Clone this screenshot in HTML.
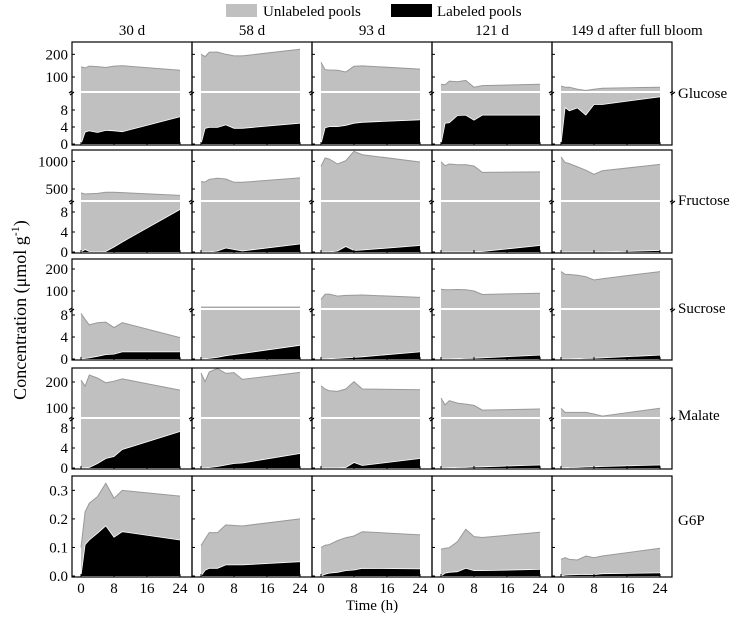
<!DOCTYPE html>
<html><head><meta charset="utf-8"><style>
html,body{margin:0;padding:0;background:#fff;}
svg{display:block;font-family:"Liberation Serif",serif;}
</style></head><body>
<svg id="chart" width="743" height="624" viewBox="0 0 743 624" xmlns="http://www.w3.org/2000/svg">
<g>
<rect x="226" y="4" width="31" height="13" fill="#c0c0c0"/>
<text x="263" y="16" font-size="15">Unlabeled pools</text>
<rect x="391" y="4" width="41" height="13" fill="#000"/>
<text x="437" y="16" font-size="15">Labeled pools</text>
</g>
<text transform="translate(26,310) rotate(-90)" text-anchor="middle" font-size="18">Concentration (μmol g<tspan dy="-7" font-size="12">-1</tspan><tspan dy="7">)</tspan></text>
<text x="372" y="610" text-anchor="middle" font-size="15">Time (h)</text>
<g id="panels"></g>
</svg>
<script>
const times = [0, 1, 2, 4, 6, 8, 10, 24];
const stages = ["30 d", "58 d", "93 d", "121 d", "149 d after full bloom"];
const metabolites = ["Glucose", "Fructose", "Sucrose", "Malate", "G6P"];
const xTicks = [0, 8, 16, 24];

const glucoseTotal = [
 [145,140,148,146,142,148,150,130],
 [200,190,210,210,200,193,193,222],
 [165,132,131,130,122,147,149,135],
 [68,66,82,79,85,55,62,68],
 [60,55,55,46,35,46,50,55]];
const glucoseLabeled = [
 [0,2.8,3.1,2.7,3.2,3.1,2.9,6.4],
 [0,3.7,3.9,3.9,4.5,3.7,3.7,4.9],
 [0,3.8,4.1,4.1,4.4,4.9,5.1,5.7],
 [0,4.9,5.0,6.7,6.8,5.6,6.8,6.8],
 [0,8.6,7.8,8.5,6.8,9.3,9.3,11.1]];
const fructoseTotal = [
 [430,410,415,420,440,440,435,385],
 [632,626,675,696,680,622,622,700],
 [910,1060,1040,952,1012,1182,1120,988],
 [994,922,952,940,940,916,801,810],
 [1080,980,960,900,840,765,830,945]];
const fructoseLabeled = [
 [0,0.5,0.1,0.1,0.1,1.0,2.0,8.5],
 [0,0,0,0.2,0.8,0.5,0.2,1.6],
 [0,0,0,0.2,1.1,0.3,0.4,1.3],
 [0,0,0,0,0,0,0.1,1.3],
 [0,0,0,0,0,0,0,0.3]];
const sucroseTotal = [
 [8.3,7.2,6.2,6.6,6.7,5.7,6.6,3.9],
 [27,27,27,27,27,27,27,27],
 [62,85,86,77,80,81,82,71],
 [108,106,106,107,106,100,84,90],
 [188,176,175,172,165,150,156,188]];
const sucroseLabeled = [
 [0,0.1,0.2,0.5,0.8,0.9,1.3,1.3],
 [0,0.05,0.1,0.3,0.6,0.8,1.0,2.5],
 [0,0,0.05,0.1,0.2,0.3,0.4,1.3],
 [0,0,0,0.05,0.1,0.15,0.2,0.7],
 [0,0,0,0.05,0.1,0.15,0.2,0.7]];
const malateTotal = [
 [207,184,227,215,197,203,212,169],
 [235,201,239,252,233,236,210,237],
 [185,173,166,164,173,201,173,170],
 [138,112,128,119,115,110,92,96],
 [99,83,83,83,83,77,69,99]];
const malateLabeled = [
 [0,0.05,0.1,0.9,1.9,2.3,3.7,7.3],
 [0,0,0.1,0.3,0.6,0.9,1.0,2.9],
 [0,0,0,0,0.1,1.1,0.5,1.9],
 [0,0,0.05,0.1,0.15,0.2,0.25,0.6],
 [0,0.05,0.1,0.15,0.2,0.25,0.3,0.6]];
const g6pTotal = [
 [0.10,0.225,0.255,0.278,0.325,0.272,0.30,0.28],
 [0.106,0.13,0.152,0.152,0.179,0.177,0.175,0.20],
 [0.10,0.108,0.11,0.124,0.134,0.14,0.155,0.144],
 [0.094,0.097,0.099,0.12,0.164,0.138,0.135,0.153],
 [0.058,0.064,0.058,0.056,0.07,0.064,0.07,0.097]];
const g6pLabeled = [
 [0,0.11,0.126,0.15,0.176,0.136,0.155,0.126],
 [0,0.02,0.027,0.027,0.039,0.039,0.039,0.05],
 [0,0.006,0.01,0.013,0.019,0.021,0.027,0.025],
 [0,0.01,0.013,0.015,0.027,0.019,0.019,0.023],
 [0,0.003,0.004,0.005,0.006,0.005,0.008,0.011]];

const lowerTicks = [0, 4, 8];
const glucoseUpperTicks = [100, 200];
const fructoseUpperTicks = [500, 1000];
const sucroseUpperTicks = [100, 200];
const malateUpperTicks = [100, 200];
const g6pTicks = [0, 0.1, 0.2, 0.3];
const g6pTickLabels = ["0.0", "0.1", "0.2", "0.3"];

const totals = [glucoseTotal, fructoseTotal, sucroseTotal, malateTotal, g6pTotal];
const labeled = [glucoseLabeled, fructoseLabeled, sucroseLabeled, malateLabeled, g6pLabeled];
const upperTicks = [glucoseUpperTicks, fructoseUpperTicks, sucroseUpperTicks, malateUpperTicks, null];

const rowGeom = [
 {top:42, bottom:145, y0:144, lowK:4.25, brk:92, ref:100, yRef:77, k:0.2267},
 {top:150, bottom:253, y0:252, lowK:5, brk:201, ref:500, yRef:189, k:0.0553},
 {top:259, bottom:360, y0:359, lowK:5.5, brk:309, ref:100, yRef:291, k:0.22},
 {top:368, bottom:469, y0:468, lowK:5, brk:418, ref:100, yRef:408, k:0.26},
 {top:476, bottom:577, y0:576, lowK:285.5, brk:null}
];
const colLeft = [72, 192, 312, 432, 552];
const colW = 120;

function xScale(col, t){ return colLeft[col] + 9 + t * 99 / 24; }
function yScale(row, v){
  const g = rowGeom[row];
  if (g.brk === null) return g.y0 - v * g.lowK;
  const lowMax = (g.y0 - g.brk) / g.lowK;
  if (v <= lowMax) return g.y0 - v * g.lowK;
  const y = g.yRef - (v - g.ref) * g.k;
  return Math.min(y, g.brk - 1.5);
}

const NS = "http://www.w3.org/2000/svg";
const root = document.getElementById("panels");
function mk(tag, attrs, parent){
  const e = document.createElementNS(NS, tag);
  for (const k in attrs) e.setAttribute(k, attrs[k]);
  (parent || root).appendChild(e);
  return e;
}

const defs = mk("defs", {});
for (let r = 0; r < 5; r++){
  const g = rowGeom[r];
  for (let c = 0; c < 5; c++){
    const cp = mk("clipPath", {id:"cp"+r+"_"+c}, defs);
    mk("rect", {x:colLeft[c], y:g.top, width:colW, height:g.bottom-g.top}, cp);
  }
}

stages.forEach((s, c) => {
  const t = mk("text", {x: c === 4 ? 571 : colLeft[c] + colW/2, y:35, "text-anchor": c === 4 ? "start" : "middle", "font-size":15});
  
  
  t.textContent = s;
});

const rowLabelY = [98, 205, 313, 420, 525];
for (let r = 0; r < 5; r++){
  const g = rowGeom[r];
  const lab = mk("text", {x:678, y:rowLabelY[r], "font-size":15});
  
  
  lab.textContent = metabolites[r];
  for (let c = 0; c < 5; c++){
    const grp = mk("g", {"clip-path":"url(#cp"+r+"_"+c+")"});
    
    
    const T = totals[r][c], L = labeled[r][c];
    const base = g.y0;
    let ptsT = times.map((t,i) => xScale(c,t).toFixed(1)+","+yScale(r,T[i]).toFixed(1));
    let polyT = xScale(c,0).toFixed(1)+","+base+" "+ptsT.join(" ")+" "+xScale(c,24).toFixed(1)+","+base;
    const a1 = mk("polygon", {points:polyT, fill:"#c0c0c0", stroke:"none"}, grp);
    
    
    const l1 = mk("polyline", {points:ptsT.join(" "), fill:"none", stroke:"#999", "stroke-width":1}, grp);
    
    
    let ptsL = times.map((t,i) => xScale(c,t).toFixed(1)+","+yScale(r,L[i]).toFixed(1));
    let polyL = xScale(c,0).toFixed(1)+","+base+" "+ptsL.join(" ")+" "+xScale(c,24).toFixed(1)+","+base;
    const a2 = mk("polygon", {points:polyL, fill:"#000", stroke:"none"}, grp);
    
    
    const l2 = mk("polyline", {points:ptsL.join(" "), fill:"none", stroke:"#fff", "stroke-width":0.8}, grp);
    
    
    if (g.brk !== null){
      const bl = mk("line", {x1:colLeft[c], x2:colLeft[c]+colW, y1:g.brk, y2:g.brk, stroke:"#fff", "stroke-width":2});
      
      
      const bm = mk("path", {d:`M${colLeft[c]-3},${g.brk+1} l3,-2 M${colLeft[c]-2},${g.brk+3} l4,-3`, stroke:"#000", "stroke-width":1.2, fill:"none"});
      
      
    }
    const frame = mk("rect", {x:colLeft[c], y:g.top, width:colW, height:g.bottom-g.top, fill:"none", stroke:"#000", "stroke-width":1.2});
    
    
    let yt = [];
    if (r === 4) yt = g6pTicks.map((v,i)=>[v, g6pTickLabels[i]]);
    else { yt = lowerTicks.map(v=>[v,String(v)]).concat(upperTicks[r].map(v=>[v,String(v)])); }
    yt.forEach(([v,lbl]) => {
      const y = yScale(r, v);
      const tk = mk("line", {x1:colLeft[c], x2:colLeft[c]+3, y1:y, y2:y, stroke:"#000", "stroke-width":1});
      
      
      if (c === 0){
        const tl = mk("text", {x:68, y:y+5, "text-anchor":"end", "font-size":15});
        
        
        tl.textContent = lbl;
      }
    });
    xTicks.forEach(t => {
      const x = xScale(c, t);
      const tk = mk("line", {x1:x, x2:x, y1:g.bottom, y2:g.bottom-3, stroke:"#000", "stroke-width":1});
      
      
      if (r === 4){
        const tl = mk("text", {x:x, y:593, "text-anchor":"middle", "font-size":15});
        
        
        tl.textContent = String(t);
      }
    });
  }
  if (rowGeom[r].brk !== null){
    const bm = mk("path", {d:`M670,${rowGeom[r].brk+1} l3,-2 M671,${rowGeom[r].brk+3} l4,-3`, stroke:"#000", "stroke-width":1.2, fill:"none"});
    
    
  }
}
</script>
</body></html>
